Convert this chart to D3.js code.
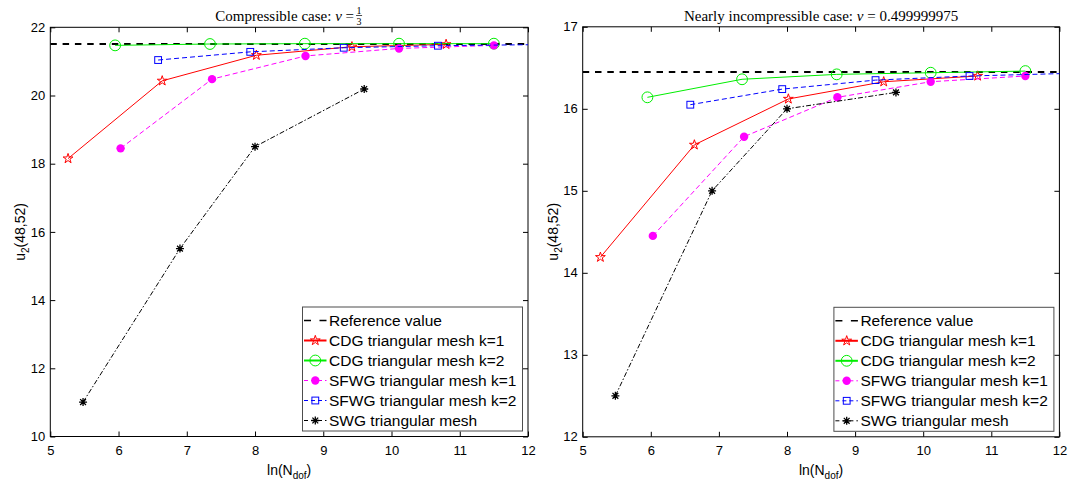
<!DOCTYPE html>
<html>
<head>
<meta charset="utf-8">
<title>u2(48,52) vs ln(Ndof)</title>
<script src="https://d3js.org/d3.v7.min.js"></script>
<style>
  body { margin: 0; background: #fff; }
  svg text { font-family: "Liberation Sans", Arial, Helvetica, sans-serif; fill: #000; }
  svg text.title { font-family: "Liberation Serif", "Times New Roman", serif; }
</style>
</head>
<body>
<div id="chart"></div>
<script>

// ---- data ----
const xTicks = [5, 6, 7, 8, 9, 10, 11, 12];
const yTicksComp = [10, 12, 14, 16, 18, 20, 22];
const yTicksInc = [12, 13, 14, 15, 16, 17];

const legendNames = ["Reference value", "CDG triangular mesh k=1", "CDG triangular mesh k=2",
                     "SFWG triangular mesh k=1", "SFWG triangular mesh k=2", "SWG triangular mesh"];

// ln(N_dof) of each mesh sequence
const cdg1X  = [5.26, 6.64, 8.02, 9.42, 10.80];
const cdg2X  = [5.95, 7.34, 8.73, 10.11, 11.50];
const sfwg1X = [6.03, 7.37, 8.74, 10.11, 11.50];
const sfwg2X = [6.58, 7.93, 9.30, 10.68, 12.06];
const swgX   = [5.48, 6.90, 8.00, 9.60];

// compressible case nu = 1/3
const refComp   = 21.51;
const cdg1Comp  = [18.15, 20.43, 21.18, 21.43, 21.50];
const cdg2Comp  = [21.47, 21.51, 21.52, 21.52, 21.52];
const sfwg1Comp = [18.45, 20.48, 21.16, 21.38, 21.47];
const sfwg2Comp = [21.04, 21.28, 21.40, 21.46, 21.49];
const swgComp   = [11.01, 15.51, 18.50, 20.19];

// nearly incompressible case nu = 0.499999975
const refInc   = 16.45;
const cdg1Inc  = [14.19, 15.56, 16.12, 16.33, 16.40];
const cdg2Inc  = [16.14, 16.36, 16.42, 16.44, 16.46];
const sfwg1Inc = [14.45, 15.66, 16.14, 16.33, 16.40];
const sfwg2Inc = [16.05, 16.24, 16.35, 16.40, 16.43];
const swgInc   = [12.50, 15.00, 16.00, 16.20];

// line look of each series
const looks = [
  {color: "#000000", dash: "6.5,5.8", width: 2, marker: null},
  {color: "#ff0000", dash: null, width: 1, marker: "star"},
  {color: "#00ee00", dash: null, width: 1, marker: "circle"},
  {color: "#ff00ff", dash: "5,3", width: 1, marker: "dot"},
  {color: "#0000ff", dash: "5,3", width: 1, marker: "square"},
  {color: "#000000", dash: "5,2,1.5,2", width: 1, marker: "asterisk"}
];

const W = 1071, H = 482;
const svg = d3.select("#chart").append("svg")
  .attr("width", W)
  .attr("height", H);

function drawMarker(g, type, color) {
  if (type == "star") {
    g.append("path").attr("d", d3.symbol(d3.symbolStar, 30)())
      .attr("fill", "none").attr("stroke", color).attr("stroke-width", 1);
  } else if (type == "circle") {
    g.append("circle").attr("r", 5.4)
      .attr("fill", "none").attr("stroke", color).attr("stroke-width", 1);
  } else if (type == "dot") {
    g.append("circle").attr("r", 4.2).attr("fill", color).attr("stroke", "none");
  } else if (type == "square") {
    g.append("rect").attr("x", -3.4).attr("y", -3.4).attr("width", 6.8).attr("height", 6.8)
      .attr("fill", "none").attr("stroke", color).attr("stroke-width", 1);
  } else if (type == "asterisk") {
    const r = 4, d = 2.9;
    g.append("path")
      .attr("d", `M${-r},0L${r},0M0,${-r}L0,${r}M${-d},${-d}L${d},${d}M${-d},${d}L${d},${-d}`)
      .attr("stroke", color).attr("stroke-width", 1.3).attr("fill", "none");
  }
}

function panel(cfg, idx) {
  const x = d3.scaleLinear().domain([5, 12]).range([cfg.left, cfg.right]);
  const y = d3.scaleLinear().domain(cfg.yDomain).range([cfg.bottom, cfg.top]);
  const g = svg.append("g");
  const fmt = d3.format("d");

  g.append("clipPath").attr("id", "clip" + idx)
    .append("rect")
    .attr("x", cfg.left).attr("y", cfg.top)
    .attr("width", cfg.right - cfg.left).attr("height", cfg.bottom - cfg.top);

  // axes, ticks pointing inward on all four sides
  const bottom = g.append("g").attr("transform", `translate(0,${cfg.bottom})`)
    .call(d3.axisBottom(x).tickValues(xTicks).tickFormat(fmt).tickSizeInner(-5).tickSizeOuter(0).tickPadding(9));
  const top = g.append("g").attr("transform", `translate(0,${cfg.top})`)
    .call(d3.axisTop(x).tickValues(xTicks).tickSizeInner(-5).tickSizeOuter(0).tickFormat(""));
  const left = g.append("g").attr("transform", `translate(${cfg.left},0)`)
    .call(d3.axisLeft(y).tickValues(cfg.yTicks).tickFormat(fmt).tickSizeInner(-5).tickSizeOuter(0).tickPadding(5));
  const right = g.append("g").attr("transform", `translate(${cfg.right},0)`)
    .call(d3.axisRight(y).tickValues(cfg.yTicks).tickSizeInner(-5).tickSizeOuter(0).tickFormat(""));
  [bottom, top, left, right].forEach(a => {
    a.select(".domain").remove();
    a.selectAll("line").attr("stroke", "#000");
    a.selectAll("text").style("font-size", "13px").attr("font-family", null);
  });

  g.append("rect")
    .attr("x", cfg.left).attr("y", cfg.top)
    .attr("width", cfg.right - cfg.left).attr("height", cfg.bottom - cfg.top)
    .attr("fill", "none").attr("stroke", "#000").attr("stroke-width", 1);

  // series
  const plot = g.append("g").attr("clip-path", `url(#clip${idx})`);
  const line = d3.line().x(d => x(d[0])).y(d => y(d[1]));

  plot.append("line")
    .attr("x1", x(5)).attr("x2", x(12))
    .attr("y1", y(cfg.refValue)).attr("y2", y(cfg.refValue))
    .attr("stroke", looks[0].color).attr("stroke-width", looks[0].width)
    .attr("stroke-dasharray", looks[0].dash);

  cfg.series.forEach((s, i) => {
    const look = looks[i + 1];
    const pts = s.xs.map((v, j) => [v, s.ys[j]]);
    plot.append("path")
      .attr("d", line(pts))
      .attr("fill", "none")
      .attr("stroke", look.color)
      .attr("stroke-width", look.width)
      .attr("stroke-dasharray", look.dash);
    pts.filter(p => p[0] <= 12).forEach(p => {
      const mg = plot.append("g").attr("transform", `translate(${x(p[0])},${y(p[1])})`);
      drawMarker(mg, look.marker, look.color);
    });
  });

  // title
  const t = g.append("text").attr("class", "title")
    .attr("y", 21).style("font-size", "15px");
  t.append("tspan").text(cfg.titleText);
  t.append("tspan").style("font-style", "italic").text("ν");
  t.append("tspan").text(cfg.titleValue);
  const fracW = cfg.fraction ? 9 : 0;
  const tw = t.node().getComputedTextLength();
  const tx = (cfg.left + cfg.right) / 2 - (tw + fracW) / 2;
  t.attr("x", tx);
  if (cfg.fraction) {
    const fx = tx + tw + 5;
    g.append("text").attr("class", "title").attr("x", fx).attr("y", 13.5)
      .attr("text-anchor", "middle").style("font-size", "10px").text(cfg.fraction[0]);
    g.append("line").attr("x1", fx - 3).attr("x2", fx + 3).attr("y1", 15.5).attr("y2", 15.5)
      .attr("stroke", "#000").attr("stroke-width", 0.7);
    g.append("text").attr("class", "title").attr("x", fx).attr("y", 24.5)
      .attr("text-anchor", "middle").style("font-size", "10px").text(cfg.fraction[1]);
  }

  // axis labels
  const xl = g.append("text")
    .attr("x", (cfg.left + cfg.right) / 2).attr("y", 475)
    .attr("text-anchor", "middle").style("font-size", "14px");
  xl.append("tspan").text("ln(N");
  xl.append("tspan").attr("dy", 4).style("font-size", "10px").text("dof");
  xl.append("tspan").attr("dy", -4).text(")");

  const yl = g.append("text")
    .attr("transform", `translate(${cfg.left - 25},${(cfg.top + cfg.bottom) / 2}) rotate(-90)`)
    .attr("text-anchor", "middle").style("font-size", "14px");
  yl.append("tspan").text("u");
  yl.append("tspan").attr("dy", 4).style("font-size", "10px").text("2");
  yl.append("tspan").attr("dy", -4).text("(48,52)");

  // legend
  const lw = 220, lh = 124;
  const lx = cfg.right - 5.5 - lw, ly = cfg.bottom - 5.5 - lh;
  const lg = g.append("g").attr("transform", `translate(${lx},${ly})`);
  lg.append("rect").attr("width", lw).attr("height", lh)
    .attr("fill", "#fff").attr("stroke", "#4d4d4d").attr("stroke-width", 1);
  legendNames.forEach((name, i) => {
    const look = looks[i];
    const cy = 13.5 + i * 20;
    lg.append("line")
      .attr("x1", 1.5).attr("x2", 24).attr("y1", cy).attr("y2", cy)
      .attr("stroke", look.color).attr("stroke-width", i == 0 ? 1.5 : (look.dash ? 1 : 2))
      .attr("stroke-dasharray", i == 0 ? "7,8.5" : (look.dash ? "4,3" : null));
    if (look.marker) {
      const mg = lg.append("g").attr("transform", `translate(12.8,${cy})`);
      drawMarker(mg, look.marker, look.color);
    }
    lg.append("text").attr("x", 26.5).attr("y", cy).attr("dy", "0.36em")
      .style("font-size", "15.5px").text(name);
  });
}

panel({
  left: 50.3, right: 528, top: 27.3, bottom: 436.5,
  yDomain: [10, 22], yTicks: yTicksComp,
  titleText: "Compressible case: ", titleValue: " = ", fraction: ["1", "3"],
  refValue: refComp,
  series: [
    {xs: cdg1X, ys: cdg1Comp},
    {xs: cdg2X, ys: cdg2Comp},
    {xs: sfwg1X, ys: sfwg1Comp},
    {xs: sfwg2X, ys: sfwg2Comp},
    {xs: swgX, ys: swgComp}
  ]
}, 0);

panel({
  left: 582.7, right: 1059.4, top: 26.8, bottom: 436.8,
  yDomain: [12, 17], yTicks: yTicksInc,
  titleText: "Nearly incompressible case: ", titleValue: " = 0.499999975", fraction: null,
  refValue: refInc,
  series: [
    {xs: cdg1X, ys: cdg1Inc},
    {xs: cdg2X, ys: cdg2Inc},
    {xs: sfwg1X, ys: sfwg1Inc},
    {xs: sfwg2X, ys: sfwg2Inc},
    {xs: swgX, ys: swgInc}
  ]
}, 1);

</script>
</body>
</html>
